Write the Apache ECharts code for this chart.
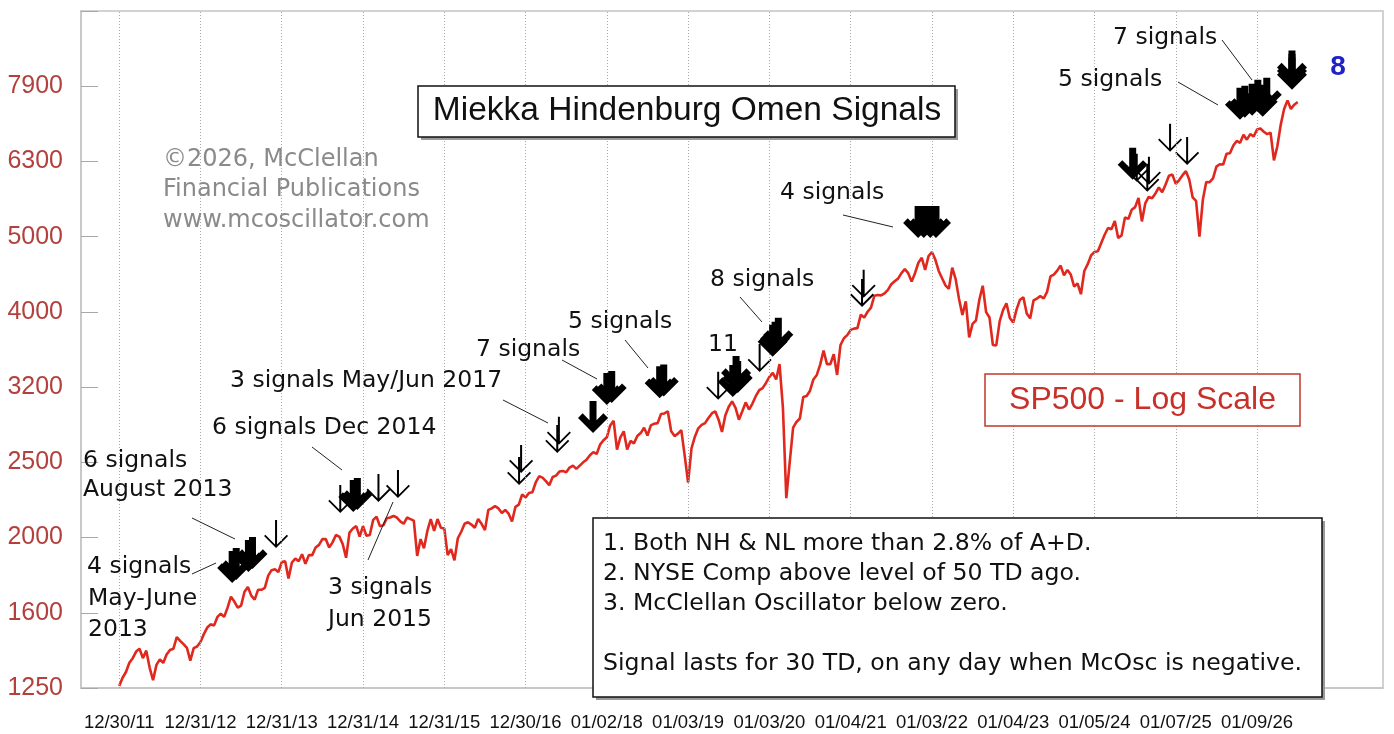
<!DOCTYPE html>
<html><head><meta charset="utf-8">
<script src="https://cdn.jsdelivr.net/npm/echarts@6/dist/echarts.min.js"></script>
<style>html,body{margin:0;padding:0;background:#fff}#c{width:1394px;height:734px}</style>
</head><body><div id="c"></div>
<script>
// ---- axis labels ----
const xLabels = ['12/30/11','12/31/12','12/31/13','12/31/14','12/31/15','12/30/16','01/02/18','01/03/19','01/03/20','01/04/21','01/03/22','01/04/23','01/05/24','01/07/25','01/09/26'];
const yLabels = ['1250','1600','2000','2500','3200','4000','5000','6300','7900'];
const yBase = 1250;           // price at bottom tick, each tick = cube root of 2

// ---- SP500, two readings per month from 12/30/11 (x unit = one labelled year) ----
const spxStep = 1 / 24;
const spx = [
// 2012
1258,1290,1313,1351,1370,1398,1410,1370,1402,1330,1280,1342,1365,1350,1385,1405,1410,1462,1445,1430,1414,1360,1413,1420,
// 2013
1440,1475,1505,1520,1515,1555,1570,1555,1600,1655,1630,1600,1610,1680,1705,1660,1640,1690,1690,1700,1765,1795,1800,1785,
// 2014
1840,1845,1750,1838,1860,1845,1885,1830,1880,1880,1925,1940,1975,1975,1925,1955,2000,1990,1945,1865,2015,2040,2055,1990,
// 2015
2055,1995,2000,2095,2115,2055,2060,2105,2110,2120,2110,2085,2070,2110,2100,2090,1875,1975,1920,2025,2100,2025,2100,2045,
// 2016
2040,1880,1915,1850,1980,2020,2070,2080,2065,2045,2100,2070,2030,2160,2170,2185,2170,2140,2160,2135,2085,2180,2195,2265,
// 2017
2245,2275,2280,2350,2395,2385,2360,2330,2390,2400,2430,2435,2425,2460,2475,2450,2475,2500,2520,2555,2580,2565,2640,2675,
// 2018
2700,2800,2840,2600,2700,2750,2600,2670,2650,2710,2735,2780,2715,2800,2815,2820,2900,2905,2925,2750,2710,2730,2760,2550,
// 2019
2350,2610,2705,2775,2805,2820,2865,2905,2925,2850,2745,2890,2965,3015,2955,2850,2925,3005,2940,2995,3065,3120,3140,3190,
// 2020
3250,3290,3225,3380,2955,2240,2500,2780,2830,2860,3055,3065,3115,3225,3270,3375,3525,3380,3380,3485,3270,3585,3660,3695,
// 2021
3755,3770,3775,3935,3900,3970,4020,4170,4180,4175,4200,4245,4320,4360,4395,4470,4525,4470,4355,4470,4615,4685,4515,4710,
// 2022
4770,4660,4500,4400,4305,4260,4545,4390,4130,3930,4100,3670,3825,3865,4120,4300,3965,3900,3585,3580,3855,3990,4075,3895,
// 2023
3840,4000,4120,4150,3950,3890,4110,4135,4165,4135,4220,4425,4450,4505,4575,4440,4515,4450,4290,4330,4190,4500,4595,4720,
// 2024
4770,4780,4905,5030,5135,5115,5245,4980,5020,5305,5280,5430,5475,5630,5240,5540,5650,5625,5710,5815,5730,5870,6030,6050,
// 2025
5880,5950,6040,6115,5955,5640,5580,5000,5600,5915,5910,5980,6200,6245,6240,6450,6460,6615,6710,6670,6840,6735,6850,6800,
// 2026
6950,6970,6900,6850,6880,6320,6600,7050,7400,7600,7400,7500,7560
];

// ---- signal arrows: time (labelled-year units) and price level of the arrow tip ----
const thinArrowX = [1.93, 2.72, 3.19, 3.43, 4.92, 4.945, 5.39, 5.41, 7.37, 7.88, 9.14, 9.16, 12.52, 12.65, 12.67, 12.93, 13.14];
const thinArrowV = [1922, 2140, 2214, 2241, 2332, 2420, 2573, 2638, 3029, 3300, 4030, 4144, 5918, 5738, 5865, 6488, 6233];
const boldArrowX = [1.39, 1.44, 1.59, 1.64, 2.88, 2.93, 5.83, 6.00, 6.06, 6.65, 6.70, 7.55, 7.59, 7.61, 8.04, 8.07, 8.11, 9.83, 9.90, 9.98, 10.05, 12.47, 13.79, 13.85, 13.94, 14.01, 14.07, 14.12, 14.43, 14.43, 14.43];
const boldArrowV = [1726, 1742, 1785, 1802, 2147, 2160, 2736, 2982, 3000, 3045, 3060, 3056, 3142, 3094, 3457, 3490, 3532, 4981, 4981, 4981, 4981, 5954, 7159, 7203, 7248, 7337, 7225, 7381, 7851, 7940, 8030];

function toY(v) { return 3 * Math.log2(v / yBase); }

const priceData = spx.map((v, i) => [i * spxStep, toY(v)]);
const thinData = thinArrowX.map((x, i) => [x, toY(thinArrowV[i])]);
const boldData = boldArrowX.map((x, i) => [x, toY(boldArrowV[i])]);
const gridXs = xLabels.map((_, i) => i);

const THIN = 'path://M11 0 L13 0 L13 24.45 L22.73 14.73 L24 16 L12 28 L0 16 L1.27 14.73 L11 24.45 Z';
const BOLD = 'path://M11.5 0 L18.5 0 L18.5 19.3 L25.4 12.4 L30 17 L15 32 L0 17 L4.6 12.4 L11.5 19.3 Z';

const ANN = 'DejaVu Sans';
function txt(x, y, text, o) {
  o = o || {};
  return { type: 'text', x: x, y: y, z: 100, silent: true,
    style: { text: text, fill: o.fill || '#111', fontSize: o.size || 23.5, fontFamily: o.family || ANN,
      fontWeight: o.weight || 'normal', textAlign: o.align || 'left', textVerticalAlign: 'middle',
      lineHeight: o.lh || 30 } };
}
function seg(x1, y1, x2, y2) {
  return { type: 'line', z: 100, silent: true, shape: { x1: x1, y1: y1, x2: x2, y2: y2 },
    style: { stroke: '#222', lineWidth: 1 } };
}
function box(x, y, w, h, stroke, shadow) {
  const els = [];
  if (shadow) els.push({ type: 'rect', z: 99, silent: true, shape: { x: x + 3, y: y + 3, width: w, height: h },
    style: { fill: '#9a9a9a' } });
  els.push({ type: 'rect', z: 100, silent: true, shape: { x: x, y: y, width: w, height: h },
    style: { fill: '#fff', stroke: stroke, lineWidth: 1.5 } });
  return els;
}

const graphics = [].concat(
  box(418, 86, 537, 51, '#111', true),
  [txt(687, 111, 'Miekka Hindenburg Omen Signals', { size: 33.5, family: 'Liberation Sans', align: 'center' })],
  [txt(163, 190, '\u00A92026, McClellan\nFinancial Publications\nwww.mcoscillator.com', { fill: '#8a8a8a', size: 24, lh: 30.5 })],
  box(593, 518, 729, 179, '#111', true),
  [txt(603, 604, '1. Both NH & NL more than 2.8% of A+D.\n2. NYSE Comp above level of 50 TD ago.\n3. McClellan Oscillator below zero.\n\nSignal lasts for 30 TD, on any day when McOsc is negative.', { size: 23.6, lh: 30 })],
  box(985, 374, 315, 52, '#c0392b', false),
  [txt(1142.5, 400, 'SP500 - Log Scale', { fill: '#c8302a', size: 32, family: 'Liberation Sans', align: 'center' })],
  [
    txt(1113, 38, '7 signals'),
    txt(1058, 80, '5 signals'),
    txt(1338, 67, '8', { fill: '#1f22c8', size: 28, family: 'Liberation Sans', weight: 'bold', align: 'center' }),
    txt(780, 193, '4 signals'),
    txt(710, 280, '8 signals'),
    txt(568, 322, '5 signals'),
    txt(708, 345, '11'),
    txt(476, 350, '7 signals'),
    txt(230, 381, '3 signals May/Jun 2017'),
    txt(212, 428, '6 signals Dec 2014'),
    txt(83, 475, '6 signals\nAugust 2013', { lh: 29 }),
    txt(87, 567, '4 signals'),
    txt(88, 614, 'May-June\n2013', { lh: 31 }),
    txt(328, 604, '3 signals\nJun 2015', { lh: 32 }),
    seg(1222, 40, 1252, 80),
    seg(1178, 82, 1218, 105),
    seg(843, 215, 893, 227),
    seg(740, 297, 762, 322),
    seg(625, 340, 648, 368),
    seg(562, 360, 597, 379),
    seg(503, 400, 548, 423),
    seg(312, 447, 342, 470),
    seg(192, 518, 235, 539),
    seg(192, 574, 216, 563),
    seg(368, 560, 393, 502)
  ]
);

const chart = echarts.init(document.getElementById('c'), null, { renderer: 'canvas' });
chart.setOption({
  animation: false,
  backgroundColor: '#fff',
  grid: { left: 81, right: 11, top: 11, bottom: 46, show: true, borderColor: '#c4c4c4', borderWidth: 1.5,
    containLabel: false, outerBoundsMode: 'none' },
  xAxis: {
    type: 'value', min: -0.47, max: 15.55,
    axisLine: { show: true, onZero: false, lineStyle: { color: '#c4c4c4', width: 1.5 } },
    axisTick: { show: false, customValues: gridXs },
    axisLabel: { customValues: gridXs, formatter: v => xLabels[Math.round(v)] || '', color: '#111',
      fontFamily: 'Liberation Sans', fontSize: 18.5, margin: 25, hideOverlap: false },
    splitLine: { show: false }
  },
  yAxis: {
    type: 'value', min: 0, max: 9, interval: 1,
    axisLine: { show: true, onZero: false, lineStyle: { color: '#c4c4c4', width: 1.5 } },
    axisTick: { show: true, inside: true, length: 17, lineStyle: { color: '#a8a8a8', width: 1 } },
    axisLabel: { formatter: v => yLabels[Math.round(v)] || '', color: '#b3403d',
      fontFamily: 'Liberation Sans', fontSize: 25, margin: 18 },
    splitLine: { show: false }
  },
  series: [
    { type: 'line', name: 'grid', data: [[0, 0]], showSymbol: false, silent: true, z: 1,
      lineStyle: { opacity: 0, width: 0 },
      markLine: { silent: true, symbol: ['none', 'none'], label: { show: false },
        lineStyle: { color: '#a8a8a8', type: [1, 2], width: 1 },
        emphasis: { disabled: true },
        data: gridXs.map(x => ({ xAxis: x })) } },
    { type: 'line', name: 'SP500', data: priceData, showSymbol: false, silent: true, z: 3,
      lineStyle: { color: '#e0281e', width: 2.6 }, emphasis: { disabled: true } },
    { type: 'scatter', name: 'thin', data: thinData, symbol: THIN, symbolSize: [24, 28], symbolOffset: [0, -14],
      itemStyle: { color: '#000', opacity: 1 }, silent: true, z: 4 },
    { type: 'scatter', name: 'bold', data: boldData, symbol: BOLD, symbolSize: [30, 32], symbolOffset: [0, -16],
      itemStyle: { color: '#000', opacity: 1 }, silent: true, z: 5 }
  ],
  graphic: graphics
});
</script>
</body></html>
